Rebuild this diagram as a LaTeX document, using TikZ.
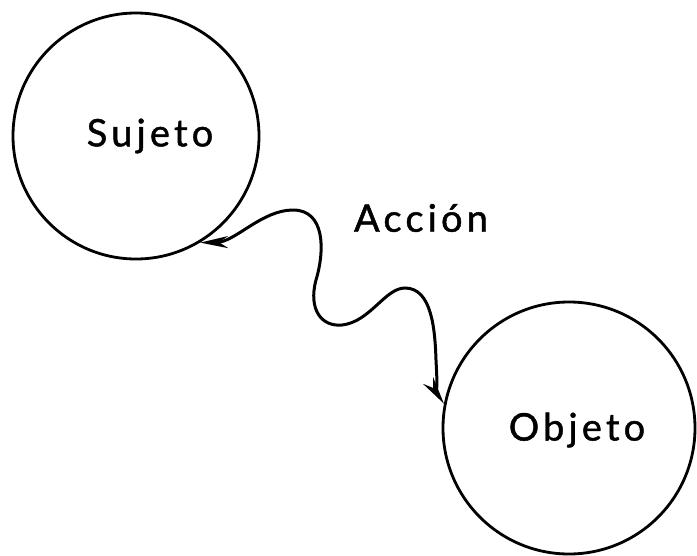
\documentclass[tikz,border=0pt]{standalone}
\usepackage{fontspec}
\setmainfont{Lato}
\usetikzlibrary{arrows.meta}
\tikzset{
  ent/.style={circle, draw, line width=2.8pt, inner sep=0pt},
  lbl/.style={font=\fontsize{38}{40}\selectfont\addfontfeature{LetterSpace=11,FakeBold=1.2}},
  conn/.style={line width=3pt, {Stealth[length=28pt,width=12pt,inset=9pt]}-{Stealth[length=28pt,width=12pt,inset=9pt]}}
}
\begin{document}
\begin{tikzpicture}[x=1pt,y=-1pt]
\useasboundingbox (0,0) rectangle (697,555);
\node[ent, minimum size=246pt] (suj) at (136,136) {};
\node[ent, minimum size=252pt] (obj) at (569,428) {};
\node[lbl] (tsuj) at (150,136) {Sujeto};
\node[lbl] (tobj) at (577,430) {Objeto};
\node[lbl] (tacc) at (421,218) {Acción};
\draw[conn] (suj.-59) .. controls (235,242) and (262,210) .. (293,210)
  .. controls (325,210) and (325,250) .. (316,280)
  .. controls (308,310) and (322,327) .. (342,325)
  .. controls (370,322) and (385,288) .. (405,288)
  .. controls (432,288) and (435,330) .. (436,360)
  .. controls (437,380) and (438,395) .. (obj.169);
\end{tikzpicture}
\end{document}
